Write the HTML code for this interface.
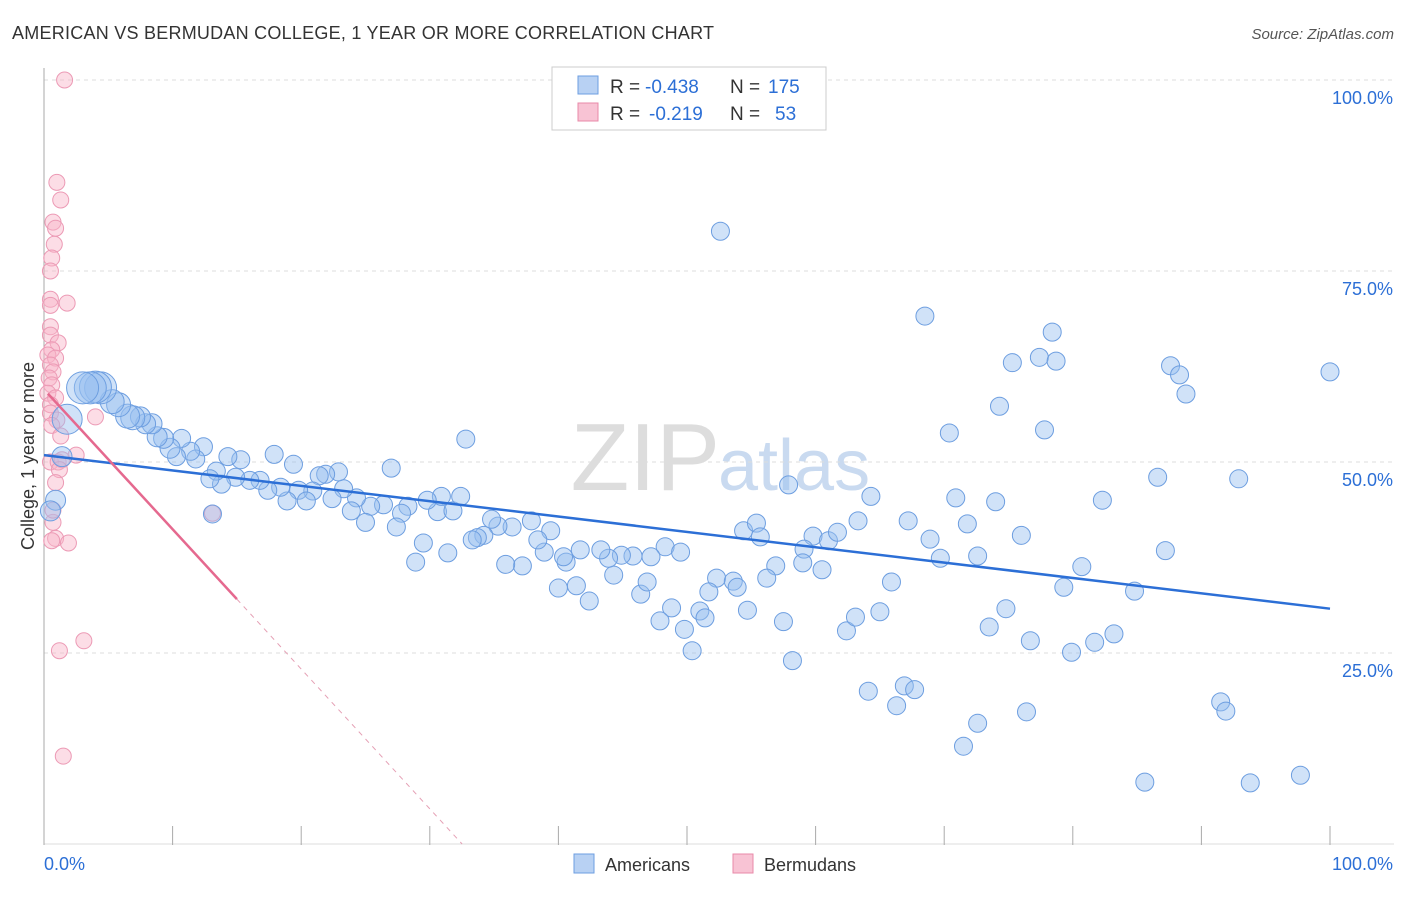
<!DOCTYPE html>
<html><head><meta charset="utf-8"><style>
body{margin:0;background:#fff;font-family:"Liberation Sans",sans-serif}
svg text{font-family:"Liberation Sans",sans-serif}
</style></head><body>
<svg id="c" width="1406" height="892" xmlns="http://www.w3.org/2000/svg">
<text x="12" y="39" font-size="18" fill="#333" textLength="702">AMERICAN VS BERMUDAN COLLEGE, 1 YEAR OR MORE CORRELATION CHART</text>
<text x="1394" y="39" font-size="15" fill="#555" text-anchor="end" font-style="italic">Source: ZipAtlas.com</text>
<text x="0" y="0" transform="translate(34,456) rotate(-90)" font-size="18" fill="#333" text-anchor="middle">College, 1 year or more</text>
<text x="720" y="490" font-size="96" fill="#ddd" text-anchor="end" font-family="Liberation Serif">ZIP</text>
<text x="718" y="490" font-size="72" fill="#c9daf0">atlas</text>
<g id="grid"></g>
<g id="pts"></g>
<g id="lines"></g>
<g>
<rect x="552" y="67" width="274" height="63" fill="#fff" stroke="#ccc"/>
<rect x="578" y="76" width="20" height="18" fill="#b8d1f3" stroke="#6d9ee0"/>
<rect x="578" y="103" width="20" height="18" fill="#f8c3d4" stroke="#e88aa8"/>
<text x="610" y="93" font-size="19" fill="#333">R =</text>
<text x="645" y="93" font-size="19" fill="#2c6fd6">-0.438</text>
<text x="730" y="93" font-size="19" fill="#333">N =</text>
<text x="768" y="93" font-size="19" fill="#2c6fd6">175</text>
<text x="610" y="120" font-size="19" fill="#333">R =</text>
<text x="649" y="120" font-size="19" fill="#2c6fd6">-0.219</text>
<text x="730" y="120" font-size="19" fill="#333">N =</text>
<text x="775" y="120" font-size="19" fill="#2c6fd6">53</text>
</g>
<g>
<rect x="574" y="854" width="20" height="19" fill="#b8d1f3" stroke="#6d9ee0"/>
<text x="605" y="871" font-size="18" fill="#333">Americans</text>
<rect x="733" y="854" width="20" height="19" fill="#f8c3d4" stroke="#e88aa8"/>
<text x="764" y="871" font-size="18" fill="#333">Bermudans</text>
</g>
<text x="44" y="870" font-size="18" fill="#2c6fd6">0.0%</text>
<text x="1393" y="870" font-size="18" fill="#2c6fd6" text-anchor="end">100.0%</text>
</svg>
<script>
const yTicks=[100,75,50,25];
const yTickLabels=["100.0%","75.0%","50.0%","25.0%"];
const xTicks=[0,10,20,30,40,50,60,70,80,90,100];
const blueX=[52.6,68.5,78.4,77.4,78.7,75.3,87.6,88.3,100,88.8,74.3,70.4,77.8,32.8,86.6,92.9,57.9,64.3,70.9,74,82.3,63.3,67.2,71.8,76,68.9,69.7,72.6,87.2,80.7,79.3,84.8,65.9,74.8,73.5,76.7,79.9,81.7,83.2,64.1,66.9,67.7,66.3,72.6,71.5,76.4,91.5,91.9,85.6,93.8,97.7,58.2,62.4,63.1,65,57.5,59.8,61,61.7,59.1,60.5,59,56.9,56.2,54.4,55.4,55.7,52.3,53.6,53.9,54.7,51.7,51,51.4,50.4,49.8,48.8,47.9,46.4,46.9,48.3,49.5,47.2,45.8,44.9,44.3,43.9,43.3,42.4,41.4,40.6,40.4,40,41.7,38.9,39.4,38.4,37.9,37.2,35.9,36.4,35.3,34.8,34.2,33.7,33.3,31.4,30.6,31.8,32.4,30.9,29.8,29.5,28.9,28.3,27.8,27.4,27,26.4,25.4,25,24.3,23.9,23.3,22.9,22.4,21.9,21.4,20.9,19.8,20.4,19.4,18.9,18.4,17.9,17.4,16.8,16,15.3,14.9,14.3,13.8,13.4,12.9,13.1,12.4,11.8,11.4,10.7,10.3,9.8,9.3,8.8,8.4,7.9,7.5,6.9,6.5,5.8,5.3,4.4,4,3.6,3,1.8,1.4,0.9,0.5];
const blueY=[80.2,69.1,67,63.7,63.2,63,62.6,61.4,61.8,58.9,57.3,53.8,54.2,53,48,47.8,47,45.5,45.3,44.8,45,42.3,42.3,41.9,40.4,39.9,37.4,37.7,38.4,36.3,33.6,33.1,34.3,30.8,28.4,26.6,25.1,26.4,27.5,20,20.7,20.2,18.1,15.8,12.8,17.3,18.6,17.4,8.1,8,9,24,27.9,29.7,30.4,29.1,40.3,39.7,40.8,38.6,35.9,36.8,36.4,34.8,41,42,40.2,34.8,34.4,33.6,30.6,33,30.5,29.6,25.3,28.1,30.9,29.2,32.7,34.3,38.9,38.2,37.6,37.7,37.8,35.2,37.4,38.5,31.8,33.8,36.9,37.6,33.5,38.5,38.2,41,39.8,42.3,36.4,36.6,41.5,41.6,42.5,40.4,40.1,39.8,38.1,43.5,43.6,45.5,45.5,45,39.4,36.9,44.2,43.3,41.5,49.2,44.4,44.2,42.1,45.3,43.6,46.5,48.7,45.2,48.4,48.2,46.2,46.3,44.9,49.7,44.9,46.7,51,46.3,47.6,47.6,50.3,48,50.7,47.1,48.8,47.8,43.2,52,50.4,51.4,53.1,50.7,51.8,53.1,53.3,55,55,55.9,55.8,56,57.5,57.9,59.7,59.8,59.7,59.7,55.6,50.7,45,43.6];
const pinkX=[1.6,1,1.3,0.7,0.9,0.8,0.6,0.5,0.5,0.5,1.8,0.5,0.5,1.1,0.6,0.3,0.9,0.5,0.7,0.4,0.6,0.3,0.9,0.5,0.5,1,0.6,1.3,4,0.5,1.1,1.4,2.5,1.2,0.9,0.7,0.9,1.9,0.6,13.1,3.1,1.2,1.5,0.7];
const pinkY=[100,86.6,84.3,81.4,80.6,78.5,76.7,75,71.3,70.5,70.8,67.7,66.6,65.6,64.7,64,63.6,62.7,61.8,61,60.1,59,58.4,57.5,56.4,55.5,54.8,53.4,55.9,50,50,50.3,50.9,49,47.3,42.1,40,39.4,39.7,43.3,26.6,25.3,11.5,43.7];
const blueTrend=[50.9,30.8];
const pinkTrend=[59.5,-1.83];
const NS="http://www.w3.org/2000/svg";
const sx=v=>44+v*12.86, sy=v=>844-v*7.64;
function mk(t,a,p){const e=document.createElementNS(NS,t);for(const k in a)e.setAttribute(k,a[k]);p.appendChild(e);return e;}
const g=document.getElementById('grid');
yTicks.forEach((v,i)=>{
 const l=mk('line',{x1:44,x2:1394,y1:sy(v),y2:sy(v),stroke:'#ddd','stroke-dasharray':'4,4'},g);
 
 
 const t=mk('text',{x:1393,y:sy(v)+24,'font-size':18,fill:'#2c6fd6','text-anchor':'end'},g);
 t.textContent=yTickLabels[i];
 
 
});
const ax=mk('line',{x1:44,x2:44,y1:68,y2:845,stroke:'#aaa'},g);


const bx=mk('line',{x1:44,x2:1394,y1:844,y2:844,stroke:'#ddd'},g);


xTicks.forEach(v=>{const l=mk('line',{x1:sx(v),x2:sx(v),y1:826,y2:845,stroke:'#aaa'},g);
 
 });
const p=document.getElementById('pts');
pinkX.forEach((x,i)=>{const c=mk('circle',{cx:sx(x),cy:sy(pinkY[i]),r:8,fill:'rgba(248,180,200,0.45)',stroke:'#ec9ab5','stroke-width':1},p);
 
 });
blueX.forEach((x,i)=>{const y=blueY[i];
 const r=(x<5&&y>57)?16:(x<2&&y>53)?15:x<2?10:x<5?15:x<7?12:x<10?10:9;
 const c=mk('circle',{cx:sx(x),cy:sy(y),r:r,fill:'rgba(150,190,240,0.45)',stroke:'#6d9ee0','stroke-width':1},p);
 
 });
const L=document.getElementById('lines');
const bl=mk('line',{x1:sx(0),y1:sy(blueTrend[0]),x2:sx(100),y2:sy(blueTrend[1]),stroke:'#2c6fd6','stroke-width':2.5},L);


const pf=x=>pinkTrend[0]+pinkTrend[1]*x;
const pl=mk('line',{x1:sx(0.3),y1:sy(pf(0.3)),x2:sx(15),y2:sy(pf(15)),stroke:'#e5698f','stroke-width':2.5},L);


const xe=-pinkTrend[0]/pinkTrend[1];
const pd=mk('line',{x1:sx(15),y1:sy(pf(15)),x2:sx(xe),y2:sy(0),stroke:'#e5a0b5','stroke-width':1,'stroke-dasharray':'5,5'},L);


</script>
</body></html>
